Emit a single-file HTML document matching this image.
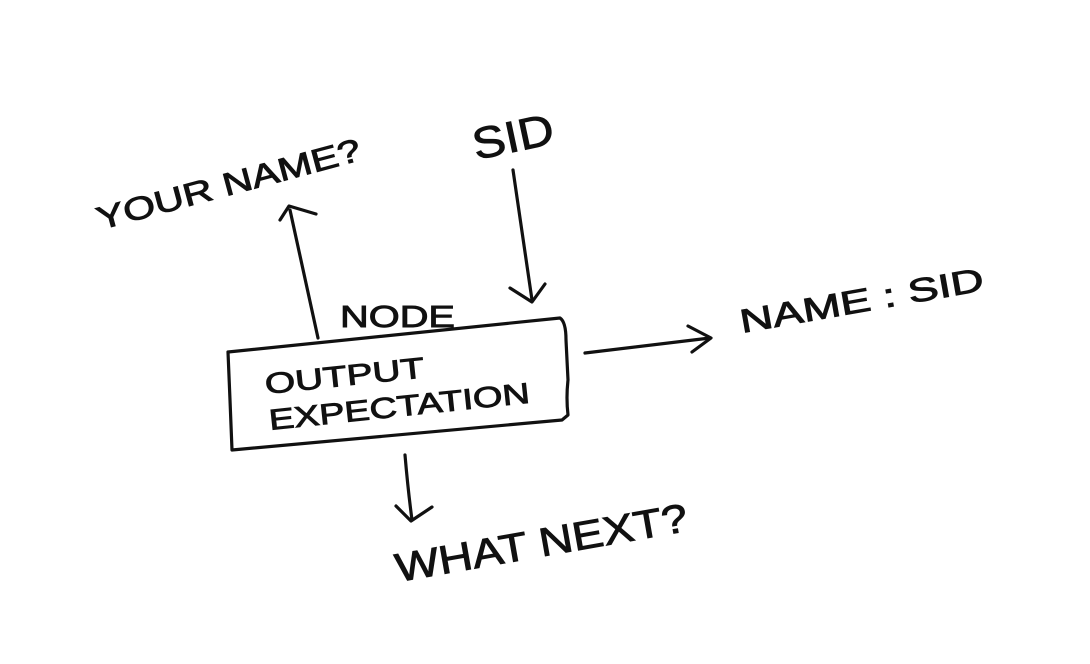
<!DOCTYPE html>
<html><head><style>
html,body{margin:0;padding:0;background:#fff;}
svg{display:block}
text{font-family:"Liberation Sans",sans-serif;fill:#111;stroke:#111;stroke-width:0.9;}
</style></head><body>
<svg width="1090" height="664" viewBox="0 0 1090 664" xmlns="http://www.w3.org/2000/svg">
<g fill="none" stroke="#111" stroke-width="3.2" stroke-linecap="round" stroke-linejoin="round">
<path d="M228 352 L560 318 Q566 322 566 340 L568 380 Q566 398 568 415 L562 420 L232 450 L230 400 L228 352"/>
<path d="M318 338 L290 210"/>
<path d="M280 220 L289 206 L316 214"/>
<path d="M513 170 Q522 230 532 300"/>
<path d="M510 288 L532 302 L545 284"/>
<path d="M585 353 L710 338"/>
<path d="M688 326 L711 338 L692 352"/>
<path d="M405 455 Q408 490 412 520"/>
<path d="M396 506 L411 521 L432 507"/>
</g>
<text x="100" y="230" font-size="32" textLength="272" lengthAdjust="spacingAndGlyphs" transform="rotate(-15 100 230)">YOUR NAME?</text>
<text x="476" y="160" font-size="44" textLength="82" lengthAdjust="spacingAndGlyphs" transform="rotate(-12 476 160)">SID</text>
<text x="340" y="327" font-size="31" textLength="115" lengthAdjust="spacingAndGlyphs">NODE</text>
<text x="266" y="394" font-size="29" textLength="160" lengthAdjust="spacingAndGlyphs" transform="rotate(-6 266 394)">OUTPUT</text>
<text x="270" y="430" font-size="29" textLength="262" lengthAdjust="spacingAndGlyphs" transform="rotate(-6 270 430)">EXPECTATION</text>
<text x="742" y="333" font-size="33" textLength="247" lengthAdjust="spacingAndGlyphs" transform="rotate(-10 742 333)">NAME : SID</text>
<text x="398" y="582" font-size="40" textLength="296" lengthAdjust="spacingAndGlyphs" transform="rotate(-10 398 582)">WHAT NEXT?</text>
</svg>
</body></html>
